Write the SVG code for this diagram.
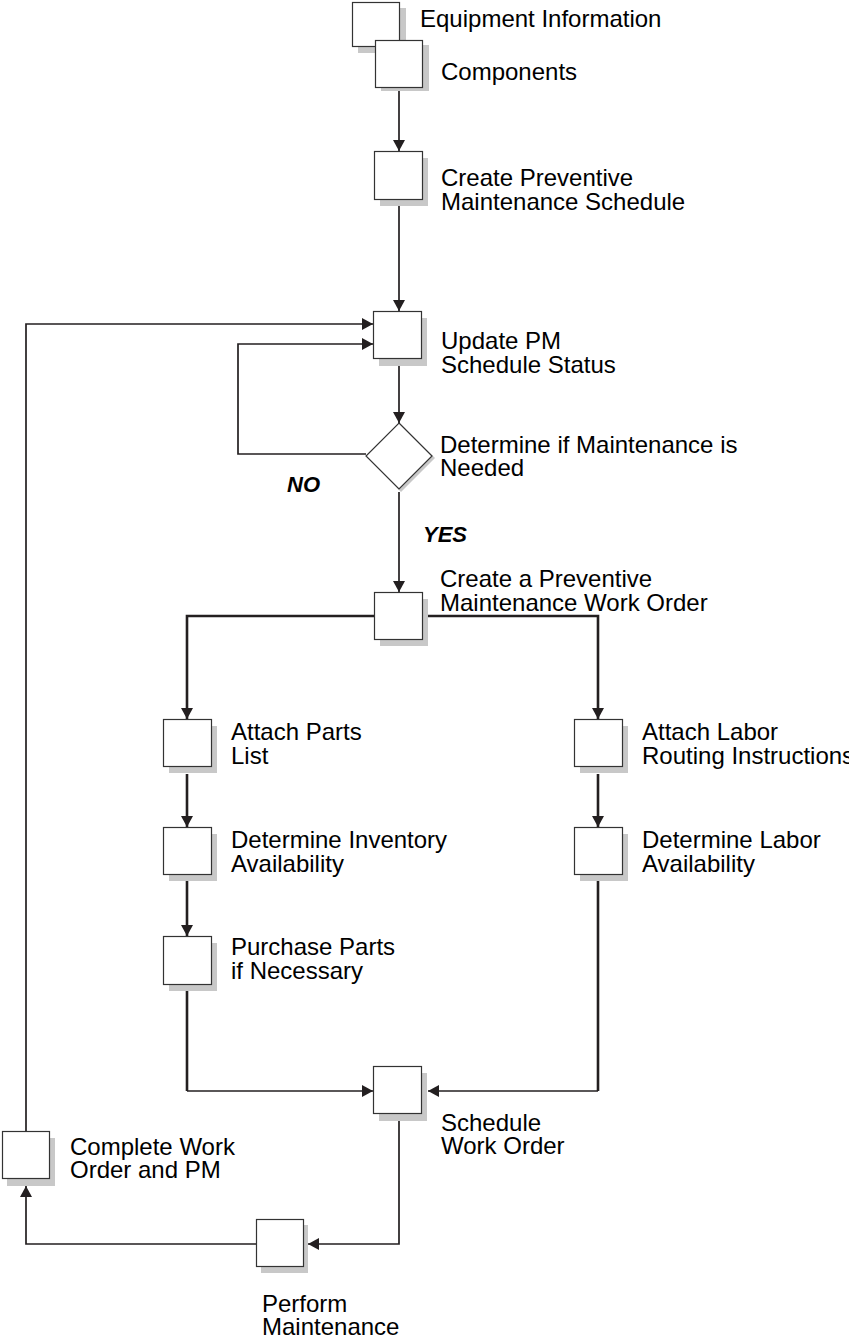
<svg xmlns="http://www.w3.org/2000/svg" width="849" height="1339" viewBox="0 0 849 1339">
<style>
.box{fill:#fff;stroke:#333;stroke-width:1.2}
.sh{fill:#c8c8c8;stroke:none}
.lbl{font-family:"Liberation Sans",Arial,sans-serif;font-size:24px;fill:#000}
.yn{font-family:"Liberation Sans",Arial,sans-serif;font-size:22px;font-weight:bold;font-style:italic;fill:#000}
.c{fill:none;stroke:#231f20;stroke-width:1.7}
.t{fill:none;stroke:#231f20;stroke-width:2.6}
</style>
<defs>
<marker id="ah" markerUnits="userSpaceOnUse" viewBox="0 0 11 12" markerWidth="11" markerHeight="12" refX="11" refY="6" orient="auto">
<path d="M0,0 L11,6 L0,12 z" fill="#231f20"/>
</marker>
</defs>
<rect width="849" height="1339" fill="#fff"/>
<g id="connectors">
<path class="c" d="M399,90 V151" marker-end="url(#ah)"/>
<path class="c" d="M399,206 V311" marker-end="url(#ah)"/>
<path class="c" d="M399,365 V423" marker-end="url(#ah)"/>
<path class="c" d="M366,454 H238 V344 H373" marker-end="url(#ah)"/>
<path class="c" d="M399,492 V592" marker-end="url(#ah)"/>
<path class="t" d="M374,616 H187 V719" marker-end="url(#ah)"/>
<path class="t" d="M428,616 H598 V719" marker-end="url(#ah)"/>
<path class="t" d="M187,774 V827" marker-end="url(#ah)"/>
<path class="t" d="M187,881 V936" marker-end="url(#ah)"/>
<path class="t" d="M187,991 V1091"/>
<path class="c" d="M187,1091 H373" marker-end="url(#ah)"/>
<path class="t" d="M598,774 V827" marker-end="url(#ah)"/>
<path class="t" d="M598,881 V1091"/>
<path class="c" d="M598,1091 H428" marker-end="url(#ah)"/>
<path class="c" d="M399,1121 V1244 H308" marker-end="url(#ah)"/>
<path class="c" d="M256,1244 H26 V1186" marker-end="url(#ah)"/>
<path class="c" d="M26,1131 V324 H373" marker-end="url(#ah)"/>
</g>
<g id="n-equipment">
<rect class="sh" x="358" y="8" width="48" height="45"/>
<rect class="box" x="352.5" y="2.5" width="47" height="44"/>
<text class="lbl" x="420" y="27">Equipment Information</text>
</g>
<g id="n-components">
<rect class="sh" x="381" y="45" width="48" height="46"/>
<rect class="box" x="375.5" y="40.5" width="47" height="47"/>
<text class="lbl" x="441" y="80">Components</text>
</g>
<g id="n-create-pms">
<rect class="sh" x="380" y="158" width="48" height="48"/>
<rect class="box" x="374.5" y="151.5" width="48" height="48"/>
<text class="lbl" x="441" y="186">Create Preventive</text>
<text class="lbl" x="441" y="210">Maintenance Schedule</text>
</g>
<g id="n-update-pm">
<rect class="sh" x="379" y="318" width="48" height="48"/>
<rect class="box" x="373.5" y="311.5" width="48" height="47"/>
<text class="lbl" x="441" y="349">Update PM</text>
<text class="lbl" x="441" y="373">Schedule Status</text>
</g>
<g id="n-decision">
<polygon class="sh" points="401,425 435,458 401,492 368,458"/>
<polygon class="box" points="399,423 432,456 399,489 366,456"/>
<text class="lbl" x="440" y="453">Determine if Maintenance is</text>
<text class="lbl" x="440" y="476">Needed</text>
<text class="yn" x="287" y="492">NO</text>
<text class="yn" x="423" y="542">YES</text>
</g>
<g id="n-create-wo">
<rect class="sh" x="380" y="599" width="48" height="47"/>
<rect class="box" x="374.5" y="592.5" width="48" height="47"/>
<text class="lbl" x="440" y="587">Create a Preventive</text>
<text class="lbl" x="440" y="611">Maintenance Work Order</text>
</g>
<g id="n-attach-parts">
<rect class="sh" x="169" y="726" width="48" height="47"/>
<rect class="box" x="163.5" y="719.5" width="48" height="47"/>
<text class="lbl" x="231" y="740">Attach Parts</text>
<text class="lbl" x="231" y="764">List</text>
</g>
<g id="n-det-inv">
<rect class="sh" x="169" y="834" width="48" height="47"/>
<rect class="box" x="163.5" y="827.5" width="48" height="47"/>
<text class="lbl" x="231" y="848">Determine Inventory</text>
<text class="lbl" x="231" y="872">Availability</text>
</g>
<g id="n-purchase">
<rect class="sh" x="169" y="943" width="48" height="48"/>
<rect class="box" x="163.5" y="936.5" width="48" height="48"/>
<text class="lbl" x="231" y="955">Purchase Parts</text>
<text class="lbl" x="231" y="979">if Necessary</text>
</g>
<g id="n-attach-labor">
<rect class="sh" x="580" y="726" width="48" height="47"/>
<rect class="box" x="574.5" y="719.5" width="48" height="47"/>
<text class="lbl" x="642" y="740">Attach Labor</text>
<text class="lbl" x="642" y="764">Routing Instructions</text>
</g>
<g id="n-det-labor">
<rect class="sh" x="580" y="834" width="48" height="47"/>
<rect class="box" x="574.5" y="827.5" width="48" height="47"/>
<text class="lbl" x="642" y="848">Determine Labor</text>
<text class="lbl" x="642" y="872">Availability</text>
</g>
<g id="n-schedule">
<rect class="sh" x="379" y="1073" width="48" height="48"/>
<rect class="box" x="373.5" y="1066.5" width="48" height="47"/>
<text class="lbl" x="441" y="1131">Schedule</text>
<text class="lbl" x="441" y="1154">Work Order</text>
</g>
<g id="n-complete">
<rect class="sh" x="7" y="1138" width="48" height="48"/>
<rect class="box" x="2.5" y="1131.5" width="47" height="47"/>
<text class="lbl" x="70" y="1155">Complete Work</text>
<text class="lbl" x="70" y="1178">Order and PM</text>
</g>
<g id="n-perform">
<rect class="sh" x="261" y="1225" width="47" height="48"/>
<rect class="box" x="256.5" y="1219.5" width="47" height="47"/>
<text class="lbl" x="262" y="1312">Perform</text>
<text class="lbl" x="262" y="1335">Maintenance</text>
</g>
</svg>
